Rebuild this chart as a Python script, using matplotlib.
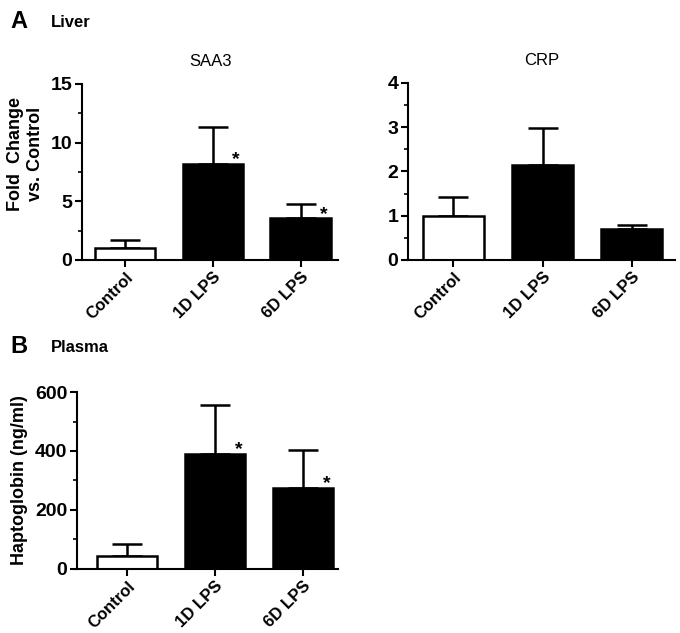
import matplotlib.pyplot as plt
import numpy as np

plt.rcParams['font.family'] = ['Liberation Sans', 'DejaVu Sans']

groups = ['Control', '1D LPS', '6D LPS']
colors = ['white', 'black', 'black']

saa3_mean = [1.0, 8.2, 3.55]
saa3_err = [0.7, 3.1, 1.2]
saa3_star = [False, True, True]

crp_mean = [1.0, 2.14, 0.71]
crp_err = [0.42, 0.84, 0.08]
crp_star = [False, False, False]

hp_mean = [44, 389, 274]
hp_err = [41, 168, 128]
hp_star = [False, True, True]

fig = plt.figure(figsize=(6.8, 6.33), dpi=100)


def bar_panel(rect, mean, err, star, ymax, major, minor, xlim, title=None, ylabel=None,
              label_y=0.5):
    ax = fig.add_axes(rect)
    x = np.arange(len(groups))
    w = 0.69
    ax.bar(x, mean, width=w, color=colors, edgecolor='black', linewidth=1.8, zorder=2)
    ax.errorbar(x, mean, yerr=[np.zeros(len(err)), err], fmt='none', ecolor='black',
                elinewidth=1.8, capsize=11, capthick=1.8, zorder=1)
    for xi, m, s in zip(x, mean, star):
        if s:
            ax.annotate('*', (xi + w / 2, m), xytext=(-5, 3), textcoords='offset points',
                        ha='center', va='center', fontsize=14, fontweight='bold')
    ax.set_xlim(*xlim)
    ax.set_ylim(0, ymax)
    ax.set_yticks(np.arange(0, ymax + 0.001, major))
    ax.set_yticks(np.arange(0, ymax + 0.001, minor), minor=True)
    ax.set_xticks(x)
    ax.set_xticklabels(groups, rotation=45, ha='right', rotation_mode='anchor',
                       fontsize=12, fontweight='bold')
    for lab in ax.get_yticklabels():
        lab.set_fontweight('bold')
        lab.set_fontsize(14)
    ax.spines['top'].set_visible(False)
    ax.spines['right'].set_visible(False)
    ax.spines['left'].set_linewidth(1.5)
    ax.spines['bottom'].set_linewidth(1.5)
    ax.tick_params(axis='both', which='major', length=5, width=1.5, pad=2)
    ax.tick_params(axis='y', which='minor', length=3, width=1.2)
    if title:
        ax.set_title(title, fontsize=12, pad=13)
    if ylabel:
        ax.set_ylabel(ylabel, fontsize=13, fontweight='bold', labelpad=5)
        ax.yaxis.label.set_y(label_y)
    return ax


bar_panel([0.1206, 0.5893, 0.377, 0.278], saa3_mean, saa3_err, saa3_star, 15, 5, 2.5,
          (-0.49, 2.43), title='SAA3', ylabel='Fold  Change\nvs. Control', label_y=0.6)
bar_panel([0.6, 0.5893, 0.393, 0.28], crp_mean, crp_err, crp_star, 4, 1, 0.5,
          (-0.51, 2.49), title='CRP')
bar_panel([0.1132, 0.1016, 0.384, 0.279], hp_mean, hp_err, hp_star, 600, 200, 100,
          (-0.57, 2.40), ylabel='Haptoglobin (ng/ml)')

fig.text(0.015, 0.966, 'A', fontsize=17, fontweight='bold', va='center')
fig.text(0.075, 0.964, 'Liver', fontsize=12, fontweight='bold', va='center')
fig.text(0.015, 0.453, 'B', fontsize=17, fontweight='bold', va='center')
fig.text(0.075, 0.451, 'Plasma', fontsize=12, fontweight='bold', va='center')

fig.savefig('out.png', dpi=100)
